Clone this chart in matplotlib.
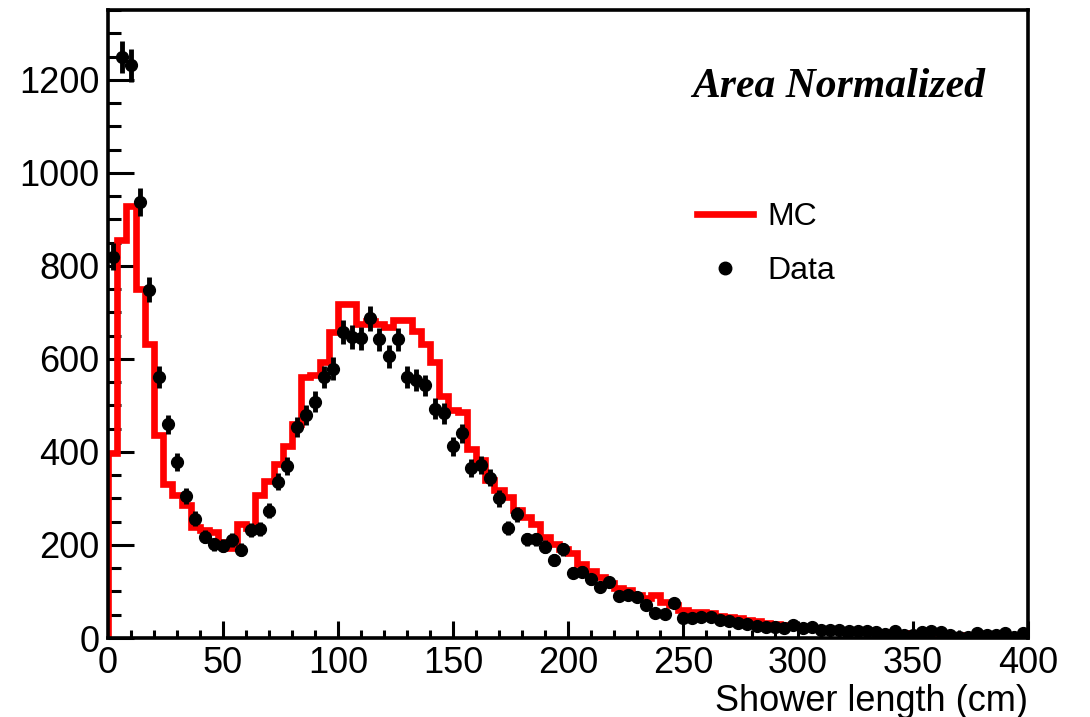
#---------import---------#
import numpy as np
import matplotlib
matplotlib.use('Agg')
import matplotlib.pyplot as plt
from matplotlib.lines import Line2D
#------------------------#


#--------Variable--------#
# 4 cm bins from 0 to 400 cm
bin_width = 4
x_min = 0
x_max = 400

data_counts = [
    820, 1249, 1231, 937, 749, 561, 459, 379, 306, 256,
    218, 201, 198, 211, 190, 233, 234, 274, 336, 370,
    454, 479, 508, 561, 579, 658, 647, 644, 687, 642,
    606, 642, 561, 554, 543, 493, 483, 412, 440, 365,
    372, 345, 300, 237, 266, 212, 212, 196, 168, 191,
    140, 142, 126, 110, 121, 90, 92, 89, 71, 53,
    52, 75, 42, 42, 46, 46, 38, 36, 33, 31,
    25, 24, 23, 22, 28, 21, 24, 18, 17, 17,
    14, 14, 15, 13, 8, 14, 7, 6, 13, 14,
    12, 6, 3, 3, 10, 6, 6, 10, 3, 10]

mc_counts = [
    397, 856, 928, 751, 633, 436, 332, 307, 286, 239,
    232, 228, 207, 193, 245, 236, 307, 337, 375, 412,
    461, 561, 565, 594, 658, 718, 718, 676, 682, 675,
    668, 683, 683, 660, 633, 594, 520, 490, 485, 407,
    382, 339, 318, 303, 275, 261, 246, 218, 203, 192,
    182, 160, 145, 132, 118, 107, 103, 92, 85, 92,
    78, 71, 60, 56, 56, 53, 47, 45, 42, 38,
    36, 33, 30, 28, 25, 24, 22, 20, 19, 18,
    16, 15, 14, 13, 12, 11, 10, 10, 9, 8,
    8, 7, 7, 6, 6, 5, 5, 5, 4, 4]

x_ticks = [0, 50, 100, 150, 200, 250, 300, 350, 400]
y_ticks = [0, 200, 400, 600, 800, 1000, 1200]
#------------------------#


#------Setting_font------#
plt.rcParams['font.family'] = ['Liberation Sans', 'DejaVu Sans']
#------------------------#


#-------Prepare_bins-----#
edges = np.arange(x_min, x_max + bin_width, bin_width)
centers = (edges[:-1] + edges[1:]) / 2
data_arr = np.array(data_counts, dtype=float)
data_err = np.sqrt(data_arr)
#------------------------#


#--------Draw_plot-------#
fig = plt.figure(figsize=(10.9, 7.17), dpi=100)
ax = fig.add_axes([108 / 1090, 1 - 638 / 717, 920 / 1090, 628 / 717])

ax.stairs(mc_counts, edges, color='#ff0000', linewidth=4.8, baseline=0, zorder=2)
ax.errorbar(centers, data_arr, yerr=data_err, fmt='o', color='black',
            markersize=8.5, elinewidth=3.5, capsize=0, zorder=3)

ax.set_xlim(x_min, x_max)
ax.set_ylim(0, 1350)

ax.set_xticks(x_ticks)
ax.set_xticks(np.arange(0, 401, 10), minor=True)
ax.set_yticks(y_ticks)
ax.set_yticks(np.arange(0, 1351, 50), minor=True)

ax.tick_params(axis='both', which='both', direction='in', width=2.2,
               top=False, right=False, labelsize=26)
ax.tick_params(axis='x', which='major', length=12, pad=6)
ax.tick_params(axis='x', which='minor', length=6)
ax.tick_params(axis='y', which='major', length=19, pad=6)
ax.tick_params(axis='y', which='minor', length=9.5)

for sp in ax.spines.values():
    sp.set_linewidth(2.6)
    sp.set_zorder(5)

ax.set_xlabel('Shower length (cm)', fontsize=26, loc='right', labelpad=2)

ax.text(0.953, 0.877, 'Area Normalized', transform=ax.transAxes,
        ha='right', va='center', fontsize=30, fontweight='bold',
        fontstyle='italic', family=['Liberation Serif', 'DejaVu Serif'])

handles = [Line2D([], [], color='#ff0000', linewidth=4.8),
           Line2D([], [], color='black', marker='o', linestyle='none', markersize=9)]
ax.legend(handles, ['MC', 'Data'], loc='center left',
          bbox_to_anchor=(697 / 1090, 1 - 244 / 717), bbox_transform=fig.transFigure,
          frameon=False, fontsize=23, handlelength=1.75, handletextpad=0.45,
          labelspacing=0.75, borderpad=0, borderaxespad=0)

fig.savefig('out.png', dpi=100)
#------------------------#
